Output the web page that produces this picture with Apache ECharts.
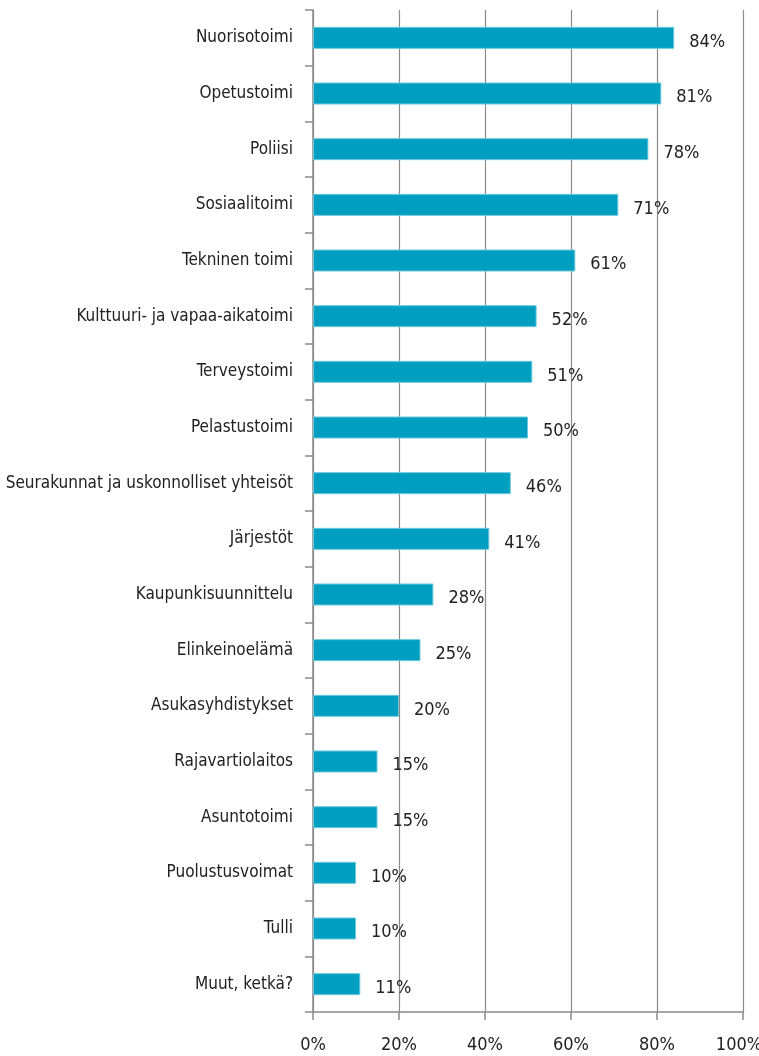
<!DOCTYPE html>
<html>
<head>
<meta charset="utf-8">
<script src="https://cdn.jsdelivr.net/npm/echarts@6/dist/echarts.min.js"></script>
<style>
  html, body { margin: 0; padding: 0; background: #fff; }
  #chart { width: 759px; height: 1056px; }
</style>
</head>
<body>
<div id="chart"></div>
<script>
// categories top -> bottom
const categories = [
  'Nuorisotoimi', 'Opetustoimi', 'Poliisi', 'Sosiaalitoimi', 'Tekninen toimi',
  'Kulttuuri- ja vapaa-aikatoimi', 'Terveystoimi', 'Pelastustoimi',
  'Seurakunnat ja uskonnolliset yhteisöt', 'Järjestöt', 'Kaupunkisuunnittelu',
  'Elinkeinoelämä', 'Asukasyhdistykset', 'Rajavartiolaitos', 'Asuntotoimi',
  'Puolustusvoimat', 'Tulli', 'Muut, ketkä?'
]
const values = [84, 81, 78, 71, 61, 52, 51, 50, 46, 41, 28, 25, 20, 15, 15, 10, 10, 11]

const font = '"Liberation Sans Narrow", "DejaVu Sans Condensed", sans-serif'

const chart = echarts.init(document.getElementById('chart'))
chart.setOption({
  animation: false,
  grid: { left: 313, right: 16, top: 10, bottom: 44, containLabel: false, outerBoundsMode: 'none' },
  xAxis: {
    type: 'value',
    min: 0,
    max: 100,
    interval: 20,
    axisLine: { show: true, lineStyle: { color: '#8a8a8a', width: 1.5 } },
    axisTick: { show: true, length: 8, lineStyle: { color: '#8a8a8a', width: 1.5 } },
    axisLabel: {
      // last label sits a bit left so it stays inside the page
      formatter: v => v === 100 ? '{m|' + v + '%}' : v + '%',
      color: '#222',
      fontSize: 18,
      fontFamily: font,
      margin: 24,
      rich: {
        m: { color: '#222', fontSize: 18, fontFamily: font, padding: [0, 8, 0, 0] }
      }
    },
    splitLine: { show: true, lineStyle: { color: '#8a8a8a', width: 1.2 } }
  },
  yAxis: {
    type: 'category',
    inverse: true,
    data: categories,
    axisLine: { show: true, lineStyle: { color: '#8a8a8a', width: 1.5 } },
    axisTick: { show: true, length: 8, lineStyle: { color: '#8a8a8a', width: 1.5 } },
    axisLabel: {
      color: '#222',
      fontSize: 17,
      fontFamily: font,
      margin: 20
    }
  },
  series: [{
    type: 'bar',
    data: values,
    barWidth: 22,
    itemStyle: { color: '#009fc1', borderColor: '#6cc9dc', borderWidth: 1 },
    label: {
      show: true,
      position: 'right',
      distance: 15,
      offset: [0, 4],
      formatter: '{c}%',
      color: '#222',
      fontSize: 18,
      fontFamily: font
    }
  }]
})
</script>
</body>
</html>
